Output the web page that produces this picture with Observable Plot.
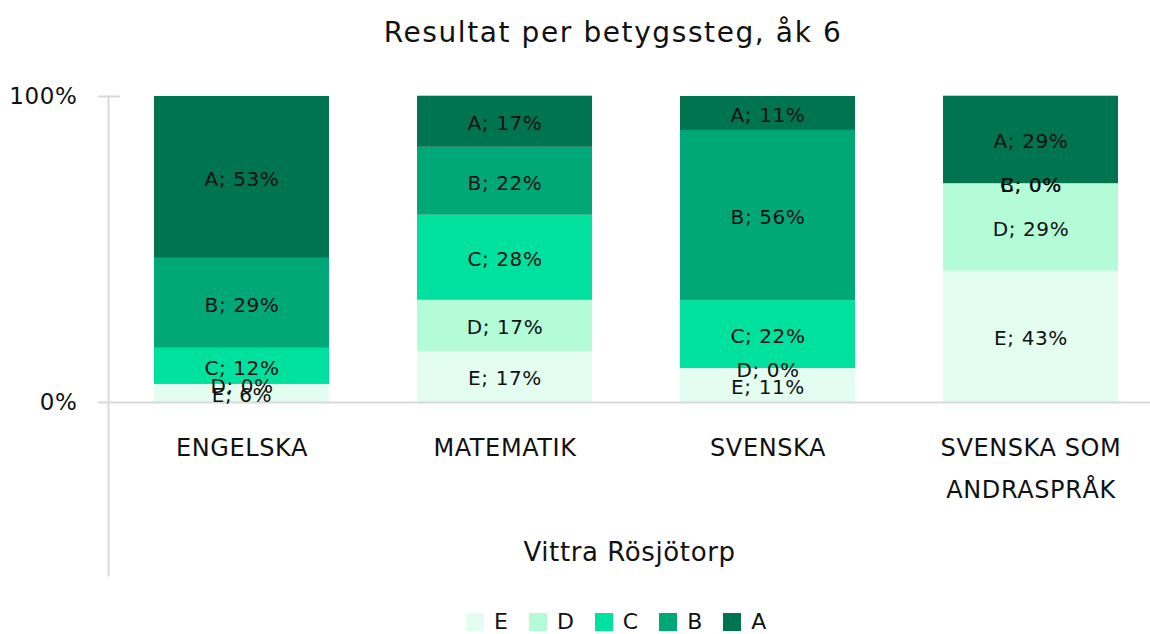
<!DOCTYPE html>
<html><head><meta charset="utf-8">
<script src="https://cdn.jsdelivr.net/npm/d3@7"></script>
<script src="https://cdn.jsdelivr.net/npm/@observablehq/plot@0.6"></script>
<style>
body{margin:0;background:#fff;font-family:"DejaVu Sans",sans-serif;color:#111;}
#wrap{position:relative;width:1150px;height:634px;overflow:hidden;}
#title{position:absolute;left:0;top:0;width:1150px;height:66px;line-height:66px;text-align:center;font-size:28px;letter-spacing:1.6px;padding-left:76px;box-sizing:border-box;}
#chart{position:absolute;left:0;top:66px;}
#legend{position:absolute;left:466px;top:608px;height:28px;line-height:28px;display:flex;align-items:center;font-size:22px;}
.sw{width:18px;height:18px;margin-right:10px}
.lab{margin-right:21px}
#chart svg{letter-spacing:0.6px}
</style></head>
<body>
<div id="wrap">
<div id="title">Resultat per betygssteg, åk 6</div>
<div id="chart"></div>
<div id="legend"></div>
</div>
<script>
const categories = ["ENGELSKA", "MATEMATIK", "SVENSKA", "SVENSKA SOM ANDRASPRÅK"];
const categoryLabels = ["ENGELSKA", "MATEMATIK", "SVENSKA", "SVENSKA SOM\nANDRASPRÅK"];
const grades = ["E", "D", "C", "B", "A"];
const gradeColors = ["#e3fdf0", "#b3fcd7", "#00e09e", "#00a877", "#00734f"];
const engelska = [5.9, 0, 11.8, 29.4, 52.9];
const matematik = [16.7, 16.7, 27.8, 22.2, 16.7];
const svenska = [11.1, 0, 22.2, 55.6, 11.1];
const svenskaSomAndrasprak = [42.9, 28.6, 0, 0, 28.6];
const yTicks = [0, 100];
const groupLabel = "Vittra Rösjötorp";

const series = [engelska, matematik, svenska, svenskaSomAndrasprak];
const rows = [];
categories.forEach((c, i) => grades.forEach((g, j) => rows.push({cat: c, grade: g, value: series[i][j]})));

const FONT = "DejaVu Sans, sans-serif";
const chart = Plot.plot({
  width: 1150,
  height: 530,
  marginTop: 30,
  marginBottom: 21,
  marginLeft: 108,
  marginRight: 0,
  style: {fontFamily: FONT, color: "#111", background: "transparent", overflow: "visible"},
  x: {domain: categories, range: [109.5, 1161.5], paddingInner: 0.335, paddingOuter: 0.1675, axis: null},
  y: {domain: [0, 100], range: [336, 30], axis: null, label: null},
  color: {domain: grades, range: gradeColors},
  marks: [
    Plot.frame({anchor: "left", stroke: "#d9d9d9", strokeWidth: 2, strokeOpacity: 1}),
    Plot.barY(rows, {x: "cat", y: "value", fill: "grade"}),
    Plot.ruleY([100], {stroke: "#d9d9d9", strokeWidth: 2, insetLeft: -10, insetRight: 1030}),
    Plot.ruleY([0], {stroke: "#d9d9d9", strokeWidth: 2, insetLeft: -10}),
    Plot.axisY({ticks: yTicks, tickSize: 0, tickPadding: 31, tickFormat: d => d + "%", fontSize: 23, label: null}),
    Plot.text(rows, Plot.stackY({x: "cat", y: "value", z: "grade", text: d => `${d.grade}; ${Math.round(d.value)}%`, fontSize: 20, dy: 2, fill: "#111"})),
    Plot.text(categories, {x: d => d, y: () => 0, text: (d, i) => categoryLabels[i], lineAnchor: "top", dy: 24, fontSize: 24, lineHeight: 1.75, fill: "#111"}),
    Plot.text([groupLabel], {frameAnchor: "bottom", dy: -15, text: d => d, fontSize: 26, fill: "#111"})
  ]
});
document.getElementById("chart").appendChild(chart);

const legend = document.getElementById("legend");
grades.forEach((g, i) => {
  const sw = document.createElement("div");
  sw.className = "sw"; sw.style.background = gradeColors[i];
  const lab = document.createElement("div");
  lab.className = "lab"; lab.textContent = g;
  legend.appendChild(sw); legend.appendChild(lab);
});
</script>
</body></html>
